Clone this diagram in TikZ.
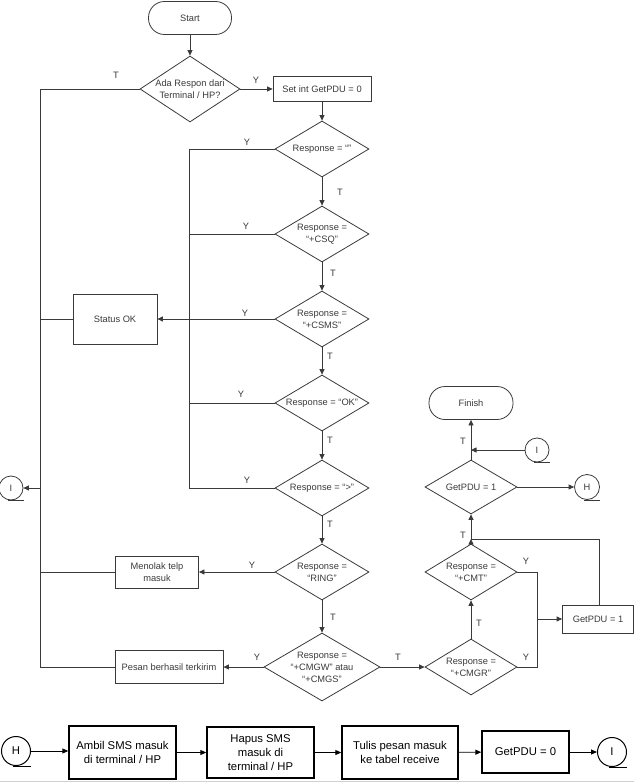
\documentclass[tikz,border=0pt]{standalone}
\usepackage{fontspec}
\setmainfont{Liberation Sans}
\usetikzlibrary{arrows.meta,shapes.geometric,calc}
\definecolor{ln}{HTML}{3A3A3A}
\begin{document}
\begin{tikzpicture}[x=1pt,y=-1pt,
 every node/.style={font=\fontsize{9.3}{12}\selectfont, text=ln},
 fl/.style={draw=ln, line width=0.8pt},
 arr/.style={fl, -{Triangle[length=5.5pt,width=5pt]}},
 dec/.style={diamond, draw=ln, line width=0.8pt, inner sep=0pt, aspect=1.7, align=center, minimum width=94pt, minimum height=56pt},
 box/.style={rectangle, draw=ln, line width=0.8pt, inner sep=1pt, align=center},
 term/.style={box, rounded corners=16pt},
 conn/.style={circle, draw=ln, line width=0.8pt, inner sep=0pt, minimum size=24pt},
 lbl/.style={inner sep=0pt},
 bbox/.style={rectangle, draw=black, line width=1.4pt, inner sep=1pt, align=center, text=black, font=\fontsize{11.3}{14}\selectfont},
 bconn/.style={circle, draw=black, line width=1pt, inner sep=0pt, minimum size=29pt, text=black, font=\fontsize{11.3}{14}\selectfont},
 barr/.style={draw=black, line width=0.9pt, -{Triangle[length=6pt,width=5pt]}},
]
\useasboundingbox (0,0) rectangle (634,783);

% main column
\node[term, minimum width=83pt, minimum height=33pt] (start) at (190,18) {Start};
\node[dec, aspect=1.5, minimum width=100pt, minimum height=66pt] (d0) at (190,89) {Ada Respon dari\\Terminal / HP?};
\node[box, minimum width=98pt, minimum height=25pt] (setpdu) at (322,89) {Set int GetPDU = 0};
\node[dec] (d1) at (322,149) {Response = “”};
\node[dec] (d2) at (322,234) {Response =\\“+CSQ”};
\node[dec] (d3) at (322,319) {Response =\\“+CSMS”};
\node[dec] (d4) at (322,403) {Response = “OK”};
\node[dec] (d5) at (322,488) {Response = “>”};
\node[dec] (d6) at (322,572) {Response =\\“RING”};
\node[dec, minimum width=116pt, minimum height=68pt] (d7) at (322,667) {Response =\\“+CMGW” atau\\“+CMGS”};

\node[box, minimum width=84pt, minimum height=50pt] (statusok) at (115,319) {Status OK};
\node[box, minimum width=83pt, minimum height=32pt] (menolak) at (157,572) {Menolak telp\\masuk};
\node[box, minimum width=108pt, minimum height=33pt] (pesan) at (169,667) {Pesan berhasil terkirim};
\node[conn] (iL) at (11,488) {I};

% right column
\node[dec, minimum width=92pt] (d8) at (471,667) {Response =\\“+CMGR”};
\node[dec, minimum width=92pt] (d9) at (471,572) {Response =\\“+CMT”};
\node[box, minimum width=71pt, minimum height=28pt] (gp1) at (598,619) {GetPDU = 1};
\node[dec, minimum width=92pt, minimum height=54pt] (d10) at (471,487) {GetPDU = 1};
\node[term, minimum width=84pt, minimum height=33pt] (finish) at (471,403) {Finish};
\node[conn] (iR) at (537,450) {I};
\node[conn, minimum size=25pt] (hR) at (587,487) {H};

% connector tails
\draw[fl] (iL.south) ++(-3,0) -- ++(16,0);
\draw[fl] (iR.south) ++(-3,0) -- ++(16,0);
\draw[fl] (hR.south) ++(-3,0) -- ++(16,0);

% junction coordinates
\coordinate (lx) at (40,89);
\coordinate (ly) at (40,667);
\coordinate (b1) at (189,149);
\coordinate (b5) at (189,488);
\coordinate (j) at (471,539);
\coordinate (rv1) at (537,572);
\coordinate (rv2) at (537,667);
\coordinate (rvm) at (537,619);
\coordinate (gtop) at (599,539);

% arrows main
\draw[arr] (start) -- (d0);
\draw[arr] (d0) -- (setpdu);
\draw[arr] (setpdu) -- (d1);
\draw[arr] (d1) -- (d2);
\draw[arr] (d2) -- (d3);
\draw[arr] (d3) -- (d4);
\draw[arr] (d4) -- (d5);
\draw[arr] (d5) -- (d6);
\draw[arr] (d6) -- (d7);

% left loop
\draw[fl] (d0.west) -- (lx) -- (ly) -- (pesan.west);
\draw[fl] (statusok.west) -- (statusok.west -| lx);
\draw[fl] (menolak.west) -- (menolak.west -| lx);
\draw[arr] (iL.east -| lx) -- (iL.east);

% Y branches
\draw[fl] (d1.west) -- (b1) -- (b5) -- (d5.west);
\draw[fl] (d2.west) -- (d2.west -| b1);
\draw[fl] (d4.west) -- (d4.west -| b1);
\draw[arr] (d3.west) -- (d3.west -| statusok.east);
\draw[arr] (d6.west) -- (d6.west -| menolak.east);
\draw[arr] (d7.west) -- (d7.west -| pesan.east);

% right side
\draw[arr] (d7.east) -- (d7.east -| d8.west);
\draw[arr] (d8) -- (d9);
\draw[fl] (d9.east) -- (rv1) -- (rv2) -- (d8.east);
\draw[arr] (rvm) -- (rvm -| gp1.west);
\draw[fl] (gp1.north -| gtop) -- (gtop) -- (j);
\draw[arr] (d9.north) -- (j);
\draw[arr] (j) -- (d10.south);
\draw[arr] (d10) -- (hR);
\draw[arr] (d10) -- (finish);
\draw[arr] (iR.west) -- (iR.west -| d10);

% labels
\node[lbl] at (116,75) {T};
\node[lbl] at (256,80) {Y};
\node[lbl] at (247,142) {Y};
\node[lbl] at (246,226) {Y};
\node[lbl] at (245,313) {Y};
\node[lbl] at (241,394) {Y};
\node[lbl] at (247,480) {Y};
\node[lbl] at (252,565) {Y};
\node[lbl] at (257,657) {Y};
\node[lbl] at (340,192) {T};
\node[lbl] at (333,273) {T};
\node[lbl] at (330,356) {T};
\node[lbl] at (330,440) {T};
\node[lbl] at (330,524) {T};
\node[lbl] at (333,617) {T};
\node[lbl] at (398,657) {T};
\node[lbl] at (479,623) {T};
\node[lbl] at (526,561) {Y};
\node[lbl] at (526,657) {Y};
\node[lbl] at (463,535) {T};
\node[lbl] at (463,441) {T};

% bottom row
\node[bconn] (hB) at (16,751) {H};
\node[bbox, minimum width=107pt, minimum height=53pt] (ambil) at (122.5,752.5) {Ambil SMS masuk\\di terminal / HP};
\node[bbox, minimum width=107pt, minimum height=51pt] (hapus) at (260.5,752.5) {Hapus SMS\\masuk di\\terminal / HP};
\node[bbox, minimum width=116pt, minimum height=53pt] (tulis) at (400,752.5) {Tulis pesan masuk\\ke tabel receive};
\node[bbox, minimum width=87pt, minimum height=42pt] (gp0) at (525.5,752) {GetPDU = 0};
\node[bconn] (iB) at (612,752) {I};
\draw[black, line width=1pt] (hB.south) ++(-3,0) -- ++(18,0);
\draw[black, line width=1pt] (iB.south) ++(-3,0) -- ++(18,0);
\draw[barr] (hB) -- (hB -| ambil.west);
\draw[barr] (ambil) -- (hapus);
\draw[barr] (hapus) -- (tulis);
\draw[barr] (tulis) -- (gp0);
\draw[barr] (gp0) -- (iB);
\draw[gray!35, line width=1.2pt] (0,781.5) -- (634,781.5);
\end{tikzpicture}
\end{document}
